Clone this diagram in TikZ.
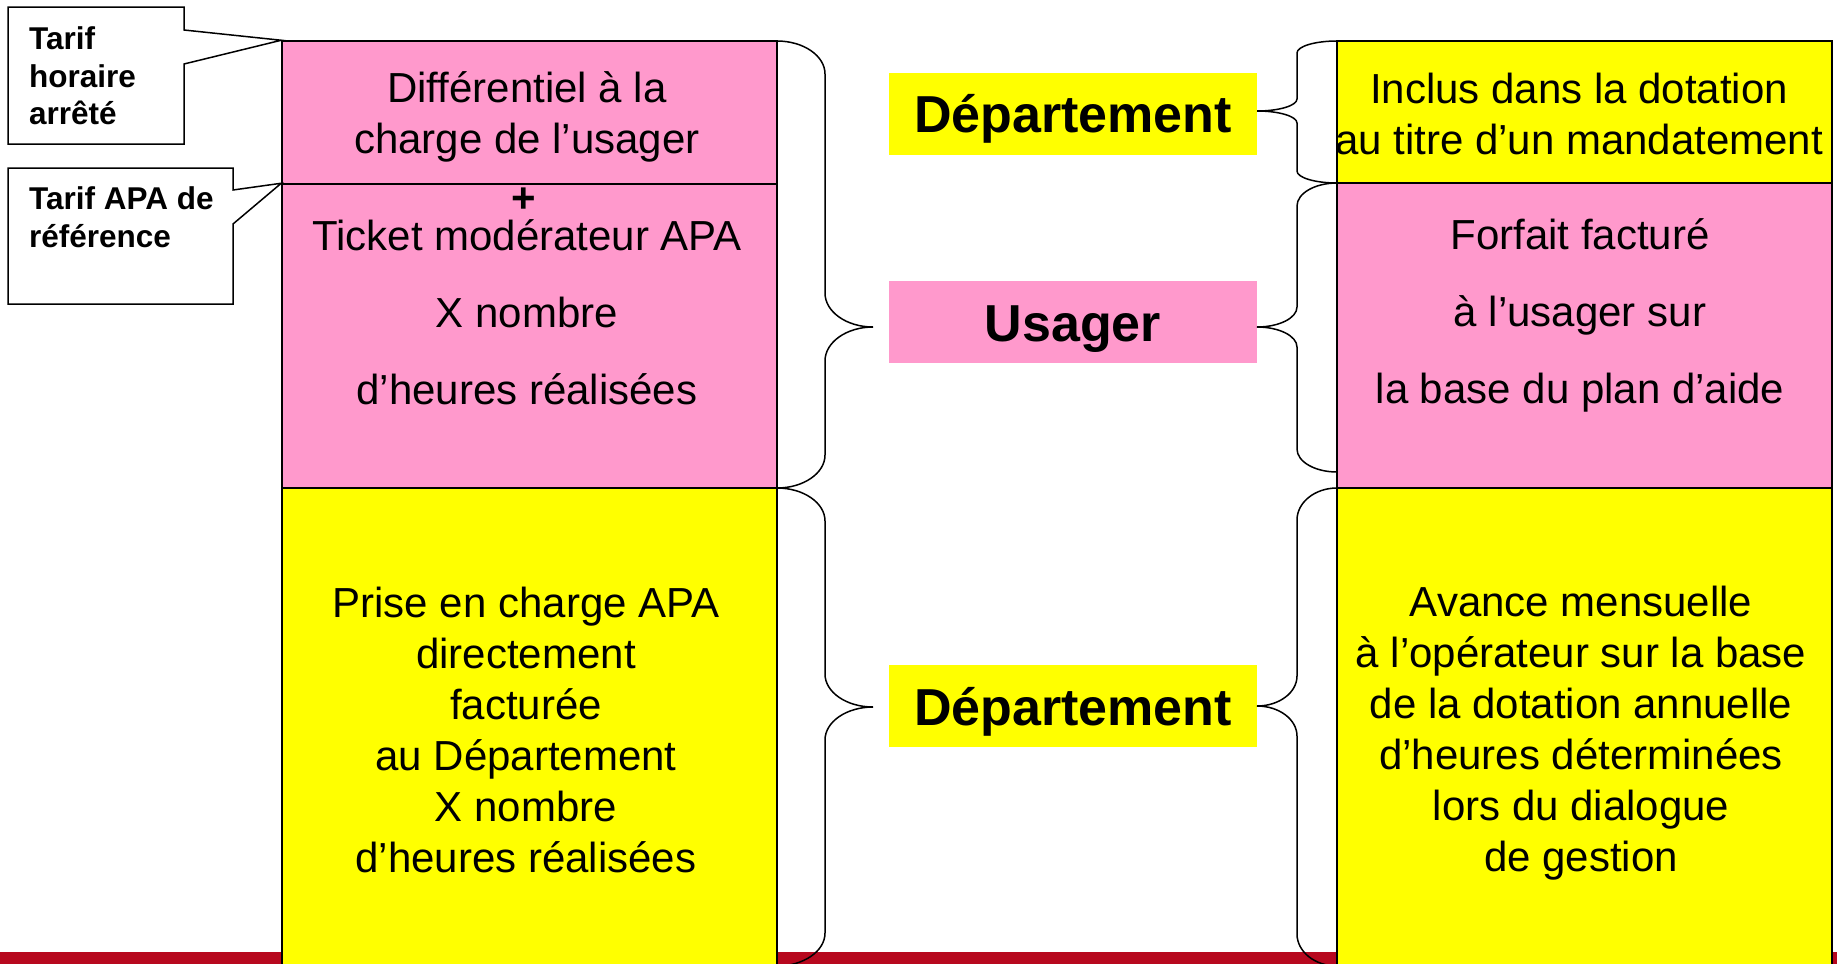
\documentclass[tikz,border=0pt]{standalone}
\usepackage{fontspec}
\setmainfont{Liberation Sans}
\definecolor{pinkc}{RGB}{255,153,204}
\definecolor{yellowc}{RGB}{255,255,0}
\definecolor{redbar}{RGB}{183,8,30}
\newcommand\mybrace[8]{%
 \draw[bracestyle] (#1,#4) .. controls ({#1+0.552*(#2-#1)},#4) and (#2,{#4+0.448*#7}) .. (#2,{#4+#7})
 -- (#2,{#5-#8}) .. controls (#2,{#5-0.448*#8}) and ({#3+0.552*(#2-#3)},#5) .. (#3,#5)
 .. controls ({#3+0.552*(#2-#3)},#5) and (#2,{#5+0.448*#8}) .. (#2,{#5+#8})
 -- (#2,{#6-#7}) .. controls (#2,{#6-0.448*#7}) and ({#1+0.552*(#2-#1)},#6) .. (#1,#6);}
\begin{document}
\begin{tikzpicture}[x=1pt,y=-1pt,
  cell/.style={draw=black, line width=1.5pt, rectangle, inner sep=0pt, minimum width=495pt},
  lbl/.style={rectangle, inner sep=0pt, minimum width=368pt, minimum height=82pt},
  lbltxt/.style={inner sep=0pt, font=\fontsize{52}{62}\selectfont\bfseries},
  txt/.style={align=center, inner sep=0pt, font=\fontsize{42}{51}\selectfont},
  txtwide/.style={align=center, inner sep=0pt, font=\fontsize{42}{77}\selectfont},
  callout/.style={draw=black, line width=1.5pt, fill=white, line join=miter},
  ctxt/.style={align=left, inner sep=0pt, anchor=west, font=\fontsize{31.5}{37.5}\selectfont\bfseries},
  bracestyle/.style={draw=black, line width=1.5pt}]
\useasboundingbox (0,0) rectangle (1837,964);
\clip (0,0) rectangle (1837,964);
\fill[white] (0,0) rectangle (1837,964);
\fill[redbar] (0,952) rectangle (1837,964);

% left column
\node[cell, fill=pinkc, minimum height=143pt] (L1) at (529.5,112.5) {};
\node[cell, fill=pinkc, minimum height=304pt] (L2) at (529.5,336) {};
\node[cell, fill=yellowc, minimum height=512pt] (L3) at (529.5,744) {};
% right column
\node[cell, fill=yellowc, minimum height=142pt] (R1) at (1584.5,112) {};
\node[cell, fill=pinkc, minimum height=305pt] (R2) at (1584.5,335.5) {};
\node[cell, fill=yellowc, minimum height=512pt] (R3) at (1584.5,744) {};

% texts in cells
\node[txt] (tL1) at (527,117) {Différentiel à la\\charge de l’usager};
\node[inner sep=0pt, font=\fontsize{42}{51}\selectfont\bfseries] (plus) at (524,200) {+};
\node[txtwide] (tL2) at (527,312) {Ticket modérateur APA\\X nombre\\d’heures réalisées};
\node[txt] (tL3) at (526,730) {Prise en charge APA\\directement\\facturée\\au Département\\X nombre\\d’heures réalisées};
\node[txt] (tR1) at (1579,113.5) {Inclus dans la dotation\\au titre d’un mandatement};
\node[txtwide] (tR2) at (1580,315.5) {Forfait facturé\\à l’usager sur\\la base du plan d’aide};
\node[txt] (tR3) at (1581,733.5) {Avance mensuelle\\à l’opérateur sur la base\\de la dotation annuelle\\d’heures déterminées\\lors du dialogue\\de gestion};

% middle labels
\node[lbl, fill=yellowc] (D1) at (1073,113.5) {};
\node[lbltxt] (tD1) at ([yshift=-5pt]D1.center) {Département};
\node[lbl, fill=pinkc] (U) at (1073,322) {};
\node[lbltxt] (tU) at ([yshift=-7pt]U.center) {Usager};
\node[lbl, fill=yellowc] (D2) at (1073,706) {};
\node[lbltxt] (tD2) at ([yshift=-6pt]D2.center) {Département};

% braces
\mybrace{777}{825}{873}{41}{327}{488}{33}{34}
\mybrace{777}{825}{873}{488}{707}{966}{33}{33}
\mybrace{1337}{1297}{1257}{41}{111}{183}{12}{12}
\mybrace{1337}{1297}{1257}{183}{327}{472}{23}{20}
\mybrace{1337}{1297}{1257}{488}{706}{966}{32}{30}

% callouts
\draw[callout] (8,7) -- (184,7) -- (184,30) -- (L1.north west) -- (184,64) -- (184,144) -- (8,144) -- cycle;
\node[ctxt] (c1) at (29,76) {Tarif\\horaire\\arrêté};
\draw[callout] (8,168) -- (233,168) -- (233,190) -- (L2.north west) -- (233,224) -- (233,304) -- (8,304) -- cycle;
\node[ctxt] (c2) at (29,217) {Tarif APA de\\référence};
\end{tikzpicture}
\end{document}
